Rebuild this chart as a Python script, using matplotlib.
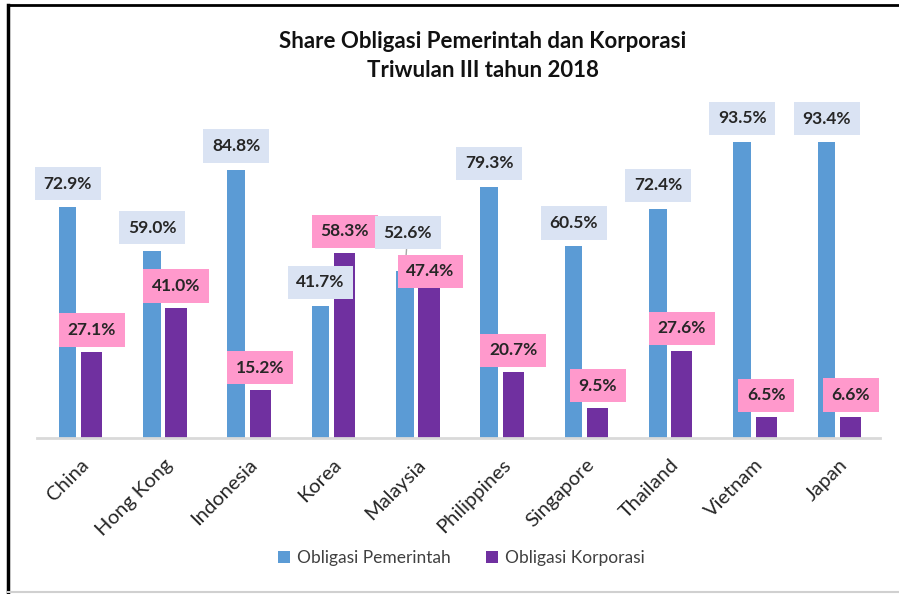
import numpy as np
import matplotlib
matplotlib.use("Agg")
from matplotlib import pyplot as plt
from matplotlib.lines import Line2D

plt.rcParams['font.family'] = ['Lato', 'DejaVu Sans']

countries = ['China', 'Hong Kong', 'Indonesia', 'Korea', 'Malaysia',
             'Philippines', 'Singapore', 'Thailand', 'Vietnam', 'Japan']
pemerintah = [72.9, 59.0, 84.8, 41.7, 52.6, 79.3, 60.5, 72.4, 93.5, 93.4]
korporasi = [27.1, 41.0, 15.2, 58.3, 47.4, 20.7, 9.5, 27.6, 6.5, 6.6]

blue = '#5b9bd5'
purple = '#7030a0'
blue_bg = '#dae3f3'
pink_bg = '#ff99cc'

fig = plt.figure(figsize=(8.99, 5.94), dpi=100)
ax = fig.add_axes([0.041, 0.2626, 0.938, 0.533])

x = np.arange(len(countries))
ax.bar(x - 0.145, pemerintah, width=0.21, color=blue, label='Obligasi Pemerintah')
ax.bar(x + 0.14, korporasi, width=0.25, color=purple, label='Obligasi Korporasi')

ax.set_xlim(-0.51, 9.49)
ax.set_ylim(0, 100)

# data labels
for i in range(len(countries)):
    b_off = (0, 17)
    p_off = (0, 16)
    arrow = None
    if countries[i] == 'Malaysia':
        b_off = (2, 28)
        p_off = (1, 12)
        arrow = dict(arrowstyle='-', color='#a6a6a6', lw=1, shrinkA=0, shrinkB=2)
    ax.annotate(f'{pemerintah[i]:.1f}%', (x[i] - 0.145, pemerintah[i]),
                xytext=b_off, textcoords='offset points', ha='center', va='center',
                fontsize=12.5, fontweight='bold', color='#262626',
                bbox=dict(boxstyle='square,pad=0.5', fc=blue_bg, ec='none'),
                arrowprops=arrow)
    ax.annotate(f'{korporasi[i]:.1f}%', (x[i] + 0.14, korporasi[i]),
                xytext=p_off, textcoords='offset points', ha='center', va='center',
                fontsize=12.5, fontweight='bold', color='#262626',
                bbox=dict(boxstyle='square,pad=0.5', fc=pink_bg, ec='none'))

ax.set_xticks(x)
ax.set_xticklabels(countries, rotation=45, ha='right', va='top',
                   rotation_mode='anchor', fontsize=14.5, color='#262626')
ax.tick_params(axis='x', length=0, pad=13)
ax.set_yticks([])
for s in ['top', 'right', 'left']:
    ax.spines[s].set_visible(False)
ax.spines['bottom'].set_color('#d9d9d9')
ax.spines['bottom'].set_linewidth(2)

fig.text(0.537, 0.93, 'Share Obligasi Pemerintah dan Korporasi',
         ha='center', va='center', fontsize=16, fontweight='bold', color='#111111')
fig.text(0.537, 0.882, 'Triwulan III tahun 2018',
         ha='center', va='center', fontsize=16, fontweight='bold', color='#111111')

fig.legend(loc='center', bbox_to_anchor=(0.513, 0.06), ncol=2, frameon=False,
           fontsize=12.5, handlelength=0.7, handleheight=0.7, columnspacing=2.0,
           handletextpad=0.4, labelcolor='#404040')

# frame around the chart
fig.add_artist(Line2D([0.009, 0.009], [0.003, 0.992], color='black', lw=2.5))
fig.add_artist(Line2D([0.009, 1.0], [0.992, 0.992], color='black', lw=2))
fig.add_artist(Line2D([0.009, 1.0], [0.003, 0.003], color='#d0d0d0', lw=1.5))

fig.savefig('out.png', dpi=100)
